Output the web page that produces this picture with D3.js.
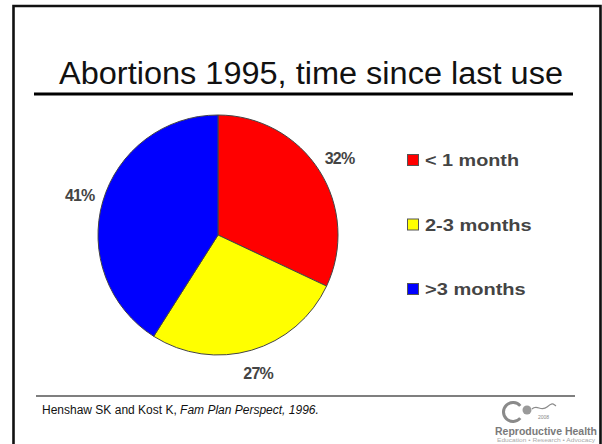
<!DOCTYPE html>
<html>
<head>
<meta charset="utf-8">
<script src="https://cdn.jsdelivr.net/npm/d3@7"></script>
<style>
  html, body { margin: 0; padding: 0; background: #fff; }
  svg { display: block; }
</style>
</head>
<body>
<svg id="chart" width="602" height="444"></svg>
<script>
// ---- data ----
const categories = ["< 1 month", "2-3 months", ">3 months"];
const values = [32, 27, 41];
const sliceColors = ["#ff0000", "#ffff00", "#0000ff"];
const titleText = "Abortions 1995, time since last use";

const svg = d3.select("#chart");
const W = 602, H = 444;

// slide frame (left, top, right)
svg.append("path")
  .attr("d", `M13.5,${H} V6 H600.5 V${H}`)
  .attr("fill", "none")
  .attr("stroke", "#111")
  .attr("stroke-width", 2.6);

// title
svg.append("text")
  .attr("x", 59).attr("y", 84)
  .attr("font-family", "Liberation Sans, Arial, sans-serif")
  .attr("font-size", 31)
  .attr("fill", "#111")
  .attr("textLength", 504)
  .attr("lengthAdjust", "spacingAndGlyphs")
  .text(titleText);

svg.append("line")
  .attr("x1", 34).attr("x2", 573)
  .attr("y1", 94).attr("y2", 94)
  .attr("stroke", "#000").attr("stroke-width", 3);

// pie
const cx = 218, cy = 235, R = 120;
const color = d3.scaleOrdinal().domain(categories).range(sliceColors);
const pie = d3.pie().sort(null).value(d => d.value);
const arcs = pie(categories.map((c, i) => ({ cat: c, value: values[i] })));
const arc = d3.arc().innerRadius(0).outerRadius(R);
const labelArc = d3.arc().innerRadius(144).outerRadius(144);

const g = svg.append("g").attr("transform", `translate(${cx},${cy})`);
g.selectAll("path.slice").data(arcs).join("path")
  .attr("class", "slice")
  .attr("d", arc)
  .attr("fill", d => color(d.data.cat))
  .attr("stroke", "#444")
  .attr("stroke-width", 1);

g.selectAll("text.pct").data(arcs).join("text")
  .attr("class", "pct")
  .attr("transform", d => {
    const [x, y] = labelArc.centroid(d);
    return `translate(${x},${y})`;
  })
  .attr("text-anchor", "middle")
  .attr("dy", "0.36em")
  .attr("font-family", "Liberation Sans, Arial, sans-serif")
  .attr("font-weight", "bold")
  .attr("font-size", 16)
  .attr("letter-spacing", -0.8)
  .attr("fill", "#444")
  .text(d => d.data.value + "%");

// legend
const ly = d3.scalePoint().domain(categories).range([160, 289]);
const legendWidths = [94, 106.7, 100.7];
const lg = svg.append("g");
const items = lg.selectAll("g").data(categories).join("g")
  .attr("transform", d => `translate(0,${ly(d)})`);
items.append("rect")
  .attr("x", 407.5).attr("y", -5.5)
  .attr("width", 11).attr("height", 11)
  .attr("fill", d => color(d))
  .attr("stroke", "#555").attr("stroke-width", 1);
items.append("text")
  .attr("x", 425).attr("y", 0)
  .attr("dy", "0.36em")
  .attr("font-family", "Liberation Sans, Arial, sans-serif")
  .attr("font-weight", "bold")
  .attr("font-size", 17)
  .attr("fill", "#444")
  .attr("textLength", (d, i) => legendWidths[i])
  .attr("lengthAdjust", "spacingAndGlyphs")
  .text(d => d);

// footer rule and source
svg.append("line")
  .attr("x1", 36).attr("x2", 575)
  .attr("y1", 396).attr("y2", 396)
  .attr("stroke", "#000").attr("stroke-width", 1.2);

const src = svg.append("text")
  .attr("x", 42).attr("y", 414)
  .attr("font-family", "Liberation Sans, Arial, sans-serif")
  .attr("font-size", 12)
  .attr("fill", "#111");
src.append("tspan").text("Henshaw SK and Kost K, ");
src.append("tspan").attr("font-style", "italic").text("Fam Plan Perspect, 1996.");

// logo
const logo = svg.append("g").attr("fill", "none").attr("stroke", "#8a8a8a");
logo.append("path")
  .attr("d", d3.arc()({ innerRadius: 8, outerRadius: 11, startAngle: Math.PI / 2 + 0.7, endAngle: Math.PI / 2 + 2 * Math.PI - 0.7 }))
  .attr("transform", "translate(513,412)")
  .attr("fill", "#8a8a8a").attr("stroke", "none");
logo.append("circle").attr("cx", 527).attr("cy", 410).attr("r", 4.5)
  .attr("fill", "#9a9a9a").attr("stroke", "none");
logo.append("path")
  .attr("d", "M532,409 C537,404 541,412 547,407 S553,404 556,406")
  .attr("stroke-width", 1.2);
svg.append("text")
  .attr("x", 538).attr("y", 419)
  .attr("font-family", "Liberation Sans, Arial, sans-serif")
  .attr("font-size", 5)
  .attr("fill", "#888")
  .text("2008");
svg.append("text")
  .attr("x", 495).attr("y", 435)
  .attr("font-family", "Liberation Sans, Arial, sans-serif")
  .attr("font-weight", "bold")
  .attr("font-size", 10.3)
  .attr("fill", "#7a7a7a")
  .attr("textLength", 102)
  .attr("lengthAdjust", "spacingAndGlyphs")
  .text("Reproductive Health");
svg.append("text")
  .attr("x", 497).attr("y", 442)
  .attr("font-family", "Liberation Sans, Arial, sans-serif")
  .attr("font-size", 4.5)
  .attr("fill", "#aaa")
  .attr("textLength", 98)
  .attr("lengthAdjust", "spacingAndGlyphs")
  .text("Education • Research • Advocacy");
</script>
</body>
</html>
